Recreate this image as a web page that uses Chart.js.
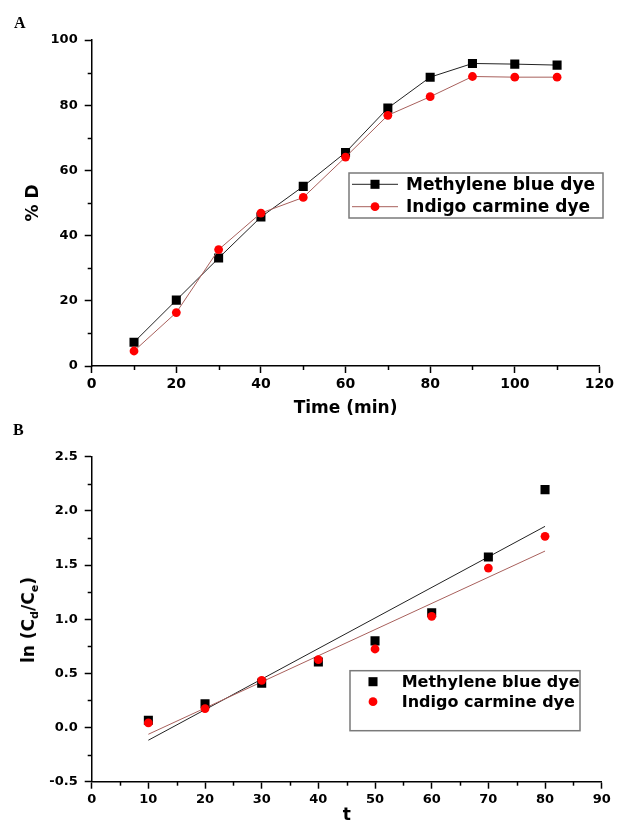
<!DOCTYPE html>
<html><head><meta charset="utf-8">
<script src="https://cdn.jsdelivr.net/npm/chart.js@4.4.0/dist/chart.umd.min.js"></script>
<style>
html,body{margin:0;padding:0;background:#fff;}
#wrap{position:relative;width:617px;height:832px;overflow:hidden;background:#fff;}
#wrap canvas{position:absolute;left:0;}
.panel{position:absolute;font-family:'Liberation Serif','Times New Roman',serif;font-weight:bold;font-size:16px;line-height:16px;color:#000;}
#ytB{position:absolute;left:28px;top:620px;transform:translate(-50%,-50%) rotate(-90deg);white-space:nowrap;font-family:'DejaVu Sans',sans-serif;font-weight:bold;font-size:17px;line-height:20px;color:#000;}
#ytB sub{font-size:11px;line-height:0;vertical-align:-4px;}
</style></head>
<body>
<div id="wrap">
  <canvas id="cA" width="617" height="430" style="top:0;width:617px;height:430px"></canvas>
  <canvas id="cB" width="617" height="402" style="top:430px;width:617px;height:402px"></canvas>
  <div class="panel" style="left:14px;top:14.6px">A</div>
  <div class="panel" style="left:13px;top:421.6px">B</div>
  <div id="ytB">ln (C<sub>d</sub>/C<sub>e</sub>)</div>
</div>
<script>
// ---- data ----
const seriesLabels = ['Methylene blue dye', 'Indigo carmine dye'];
const timeA = [10, 20, 30, 40, 50, 60, 70, 80, 90, 100, 110];
const methyleneA = [7.3, 20.2, 33.1, 45.7, 55.1, 65.5, 79.1, 88.6, 92.8, 92.6, 92.3];
const indigoA = [4.6, 16.4, 35.7, 46.9, 51.7, 64.1, 76.9, 82.6, 88.8, 88.6, 88.6];
const tB = [10, 20, 30, 40, 50, 60, 70, 80];
const methyleneB = [0.067, 0.22, 0.41, 0.605, 0.80, 1.06, 1.574, 2.196];
const indigoB = [0.043, 0.175, 0.436, 0.627, 0.725, 1.027, 1.472, 1.765];
const fitT = [10, 80];
const methyleneFit = [-0.117, 1.857];
const indigoFit = [-0.062, 1.629];

const FONT = "'DejaVu Sans', 'Liberation Sans', sans-serif";
const BLACK = '#000000';
const RED = '#ff0000';
const REDLINE = '#a8605c';
const pts = (xs, ys) => xs.map((x, i) => ({x: x, y: ys[i]}));

// plugin: minor ticks + boxed legend
const extras = {
  id: 'extras',
  afterDraw(chart, args, opts) {
    const ctx = chart.ctx;
    const ca = chart.chartArea;
    ctx.save();
    ctx.strokeStyle = '#000';
    ctx.lineWidth = 1.5;
    const xs = chart.scales.x, ys = chart.scales.y;
    for (let i = 0; i < xs.ticks.length - 1; i++) {
      const v = (xs.ticks[i].value + xs.ticks[i + 1].value) / 2;
      const p = Math.round(xs.getPixelForValue(v)) + 0.5;
      ctx.beginPath(); ctx.moveTo(p, ca.bottom); ctx.lineTo(p, ca.bottom + 4); ctx.stroke();
    }
    for (let i = 0; i < ys.ticks.length - 1; i++) {
      const v = (ys.ticks[i].value + ys.ticks[i + 1].value) / 2;
      const p = Math.round(ys.getPixelForValue(v)) + 0.5;
      ctx.beginPath(); ctx.moveTo(ca.left, p); ctx.lineTo(ca.left - 4, p); ctx.stroke();
    }
    const L = opts.legend;
    if (L) {
      ctx.strokeStyle = '#7a7a7a';
      ctx.lineWidth = 1.5;
      ctx.strokeRect(L.x, L.y, L.w, L.h);
      L.items.forEach((di, k) => {
        const ds = chart.data.datasets[di];
        const cy = L.row0 + k * L.rowH;
        if (L.line) {
          ctx.strokeStyle = ds.borderColor;
          ctx.lineWidth = 1;
          ctx.beginPath(); ctx.moveTo(L.lx1, cy); ctx.lineTo(L.lx2, cy); ctx.stroke();
        }
        ctx.fillStyle = ds.pointBackgroundColor;
        Chart.helpers.drawPoint(ctx, {pointStyle: ds.pointStyle, radius: ds.pointRadius, rotation: 0, borderWidth: 0}, L.mx, cy);
        ctx.fillStyle = '#000';
        ctx.font = 'bold ' + L.fs + 'px ' + FONT;
        ctx.textBaseline = 'middle';
        ctx.textAlign = 'left';
        ctx.fillText(seriesLabels[ds.legendIndex], L.tx, cy + 1);
      });
    }
    ctx.restore();
  }
};

function axis(min, max, step, tickSize, title, titleOpts, fitFn, fmt) {
  return {
    type: 'linear', min: min, max: max,
    ticks: {stepSize: step, color: '#000', font: {family: FONT, size: tickSize, weight: 'bold'}, padding: titleOpts.tickPad,
            callback: fmt || (v => String(v)), autoSkip: false, maxRotation: 0},
    grid: {drawOnChartArea: false, drawTicks: true, tickLength: 7, tickColor: '#000', tickWidth: 1.5},
    border: {display: true, color: '#000', width: 1.5},
    title: {display: !!title, text: title, color: '#000', font: {family: FONT, size: 17, weight: 'bold'}, padding: titleOpts.pad},
    afterFit: fitFn
  };
}

// ---- Chart A ----
new Chart(document.getElementById('cA'), {
  type: 'line',
  data: {
    datasets: [
      {legendIndex: 0, data: pts(timeA, methyleneA), borderColor: '#222', borderWidth: 1, backgroundColor: BLACK,
       pointStyle: 'rect', pointRadius: 6.4, pointBorderWidth: 0, pointBackgroundColor: BLACK, tension: 0, order: 2},
      {legendIndex: 1, data: pts(timeA, indigoA), borderColor: REDLINE, borderWidth: 1, backgroundColor: RED,
       pointStyle: 'circle', pointRadius: 4.4, pointBorderWidth: 0, pointBackgroundColor: RED, tension: 0, order: 1}
    ]
  },
  options: {
    responsive: false, animation: false, devicePixelRatio: 1,
    layout: {padding: {top: 40, right: 15.3, left: 0, bottom: 0}},
    plugins: {legend: {display: false}, tooltip: {enabled: false},
      extras: {legend: {x: 349, y: 173, w: 254, h: 45, row0: 184.3, rowH: 22.4, line: true, lx1: 352, lx2: 398, mx: 375, tx: 406, fs: 17, items: [0, 1]}}},
    scales: {
      x: axis(0, 120, 20, 14, 'Time (min)', {pad: {top: 0, bottom: 10.8}, tickPad: 3}, s => { s.height = 64; }),
      y: axis(0, 100, 20, 13, '% D', {pad: {top: 23.5, bottom: 0}, tickPad: 7}, s => { s.width = 91.7; })
    }
  },
  plugins: [extras]
});

// ---- Chart B ----
new Chart(document.getElementById('cB'), {
  type: 'line',
  data: {
    datasets: [
      {legendIndex: 0, data: pts(tB, methyleneB), showLine: false, borderColor: BLACK, backgroundColor: BLACK,
       pointStyle: 'rect', pointRadius: 6.4, pointBorderWidth: 0, pointBackgroundColor: BLACK, order: 2},
      {legendIndex: 1, data: pts(tB, indigoB), showLine: false, borderColor: RED, backgroundColor: RED,
       pointStyle: 'circle', pointRadius: 4.4, pointBorderWidth: 0, pointBackgroundColor: RED, order: 1},
      {legendIndex: 0, data: pts(fitT, methyleneFit), borderColor: '#222', borderWidth: 1, pointRadius: 0, tension: 0, order: 4},
      {legendIndex: 1, data: pts(fitT, indigoFit), borderColor: REDLINE, borderWidth: 1, pointRadius: 0, tension: 0, order: 3}
    ]
  },
  options: {
    responsive: false, animation: false, devicePixelRatio: 1,
    layout: {padding: {top: 26.7, right: 15.3, left: 0, bottom: 0}},
    plugins: {legend: {display: false}, tooltip: {enabled: false},
      extras: {legend: {x: 350, y: 240.7, w: 230, h: 60, row0: 251.7, rowH: 20, line: false, mx: 373, tx: 401.7, fs: 16, items: [0, 1]}}},
    scales: {
      x: axis(0, 90, 10, 13, 't', {pad: {top: 0, bottom: 5.8}, tickPad: 3}, s => { s.height = 50.3; }),
      y: axis(-0.5, 2.5, 0.5, 13, '', {pad: 0, tickPad: 7}, s => { s.width = 91.7; }, v => Number(v).toFixed(1))
    }
  },
  plugins: [extras]
});
</script>
</body></html>
